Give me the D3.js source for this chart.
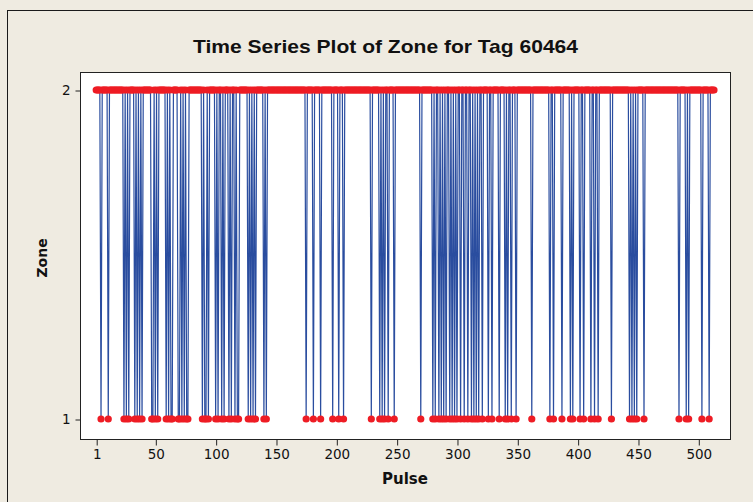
<!DOCTYPE html>
<html>
<head>
<meta charset="utf-8">
<script src="https://cdn.jsdelivr.net/npm/d3@7/dist/d3.min.js"></script>
<style>
  html, body { margin: 0; padding: 0; background: #efebe1; }
  svg { display: block; }
</style>
</head>
<body>
<svg id="chart" width="753" height="502"></svg>
<script>
// ---- data ----
const title = "Time Series Plot of Zone for Tag 60464";
const xLabel = "Pulse";
const yLabel = "Zone";
const pulseCount = 513;
// pulses at which Zone = 1 (all others are Zone = 2)
const zoneOnePulses = [5, 11, 24, 26, 28, 33, 35, 37, 39, 47, 48, 50, 52, 59, 61, 63, 64, 69, 70, 72, 74, 76, 77,
  89, 91, 92, 94, 100, 102, 105, 107, 111, 113, 116, 118, 119, 127, 129, 131, 133, 140, 142,
  175, 181, 187, 197, 202, 206, 229, 236, 238, 240, 243, 248, 270,
  280, 282, 285, 287, 289, 291, 294, 296, 298, 300, 303, 306, 309, 312, 314, 316, 318, 321,
  326, 329, 335, 340, 342, 345, 349, 362, 377, 380, 387, 394, 396, 402, 405,
  411, 414, 417, 428, 443, 445, 447, 449, 455, 484, 490, 492, 503, 509];
const xTicks = [1, 50, 100, 150, 200, 250, 300, 350, 400, 450, 500];
const yTicks = [1, 2];

// ---- series ----
const oneSet = new Set(zoneOnePulses);
const series = d3.range(1, pulseCount + 1).map(p => ({ pulse: p, zone: oneSet.has(p) ? 1 : 2 }));

const svg = d3.select("#chart");
const plot = { left: 80, top: 72, right: 730, bottom: 439 };

// outer frame
svg.append("rect").attr("x", 7.5).attr("y", 10.5).attr("width", 900).attr("height", 700)
  .attr("fill", "#efebe1").attr("stroke", "#1a1a1a").attr("stroke-width", 1);

const x = d3.scaleLinear().domain([1, 500]).range([96.2, 698.3]);
const y = d3.scaleLinear().domain([1, 2]).range([419, 90]);

// plot area
svg.append("rect").attr("x", plot.left + 0.5).attr("y", plot.top + 0.5)
  .attr("width", plot.right - plot.left).attr("height", plot.bottom - plot.top)
  .attr("fill", "#ffffff").attr("stroke", "#222").attr("stroke-width", 1);

// axes
const fontTick = "DejaVu Sans, Verdana, sans-serif";
const xAxis = d3.axisBottom(x).tickValues(xTicks).tickSize(6).tickPadding(4).tickFormat(d3.format("d"));
const gx = svg.append("g").attr("transform", `translate(0.5,${plot.bottom + 0.5})`).call(xAxis);
gx.select(".domain").remove();
gx.selectAll("line").attr("stroke", "#222");
gx.selectAll("text").attr("font-family", fontTick).attr("font-size", "13.5px").attr("fill", "#111");

const yAxis = d3.axisLeft(y).tickValues(yTicks).tickSize(5).tickPadding(5).tickFormat(d3.format("d"));
const gy = svg.append("g").attr("transform", `translate(${plot.left + 0.5},0.5)`).call(yAxis);
gy.select(".domain").remove();
gy.selectAll("line").attr("stroke", "#222");
gy.selectAll("text").attr("font-family", fontTick).attr("font-size", "13.5px").attr("fill", "#111");

// line
const line = d3.line().x(d => x(d.pulse)).y(d => y(d.zone));
svg.append("path").datum(series).attr("d", line)
  .attr("fill", "none").attr("stroke", "#2a4d9f").attr("stroke-width", 1.2);

// dots
svg.append("g").selectAll("circle").data(series).join("circle")
  .attr("cx", d => x(d.pulse)).attr("cy", d => y(d.zone)).attr("r", 3.6)
  .attr("fill", "#ee1c24");

// title
svg.append("text").attr("x", 385.5).attr("y", 53).attr("text-anchor", "middle")
  .attr("font-family", "Liberation Sans, Arial, sans-serif").attr("font-weight", "bold")
  .attr("font-size", "19px").attr("fill", "#111")
  .attr("textLength", 385).attr("lengthAdjust", "spacingAndGlyphs")
  .text(title);

// axis labels
svg.append("text").attr("x", 405).attr("y", 484).attr("text-anchor", "middle")
  .attr("font-family", "DejaVu Sans, Verdana, sans-serif").attr("font-weight", "bold")
  .attr("font-size", "15px").attr("fill", "#111").text(xLabel);

svg.append("text").attr("transform", "translate(47,258) rotate(-90)").attr("text-anchor", "middle")
  .attr("font-family", "DejaVu Sans, Verdana, sans-serif").attr("font-weight", "bold")
  .attr("font-size", "14px").attr("fill", "#111").text(yLabel);
</script>
</body>
</html>
